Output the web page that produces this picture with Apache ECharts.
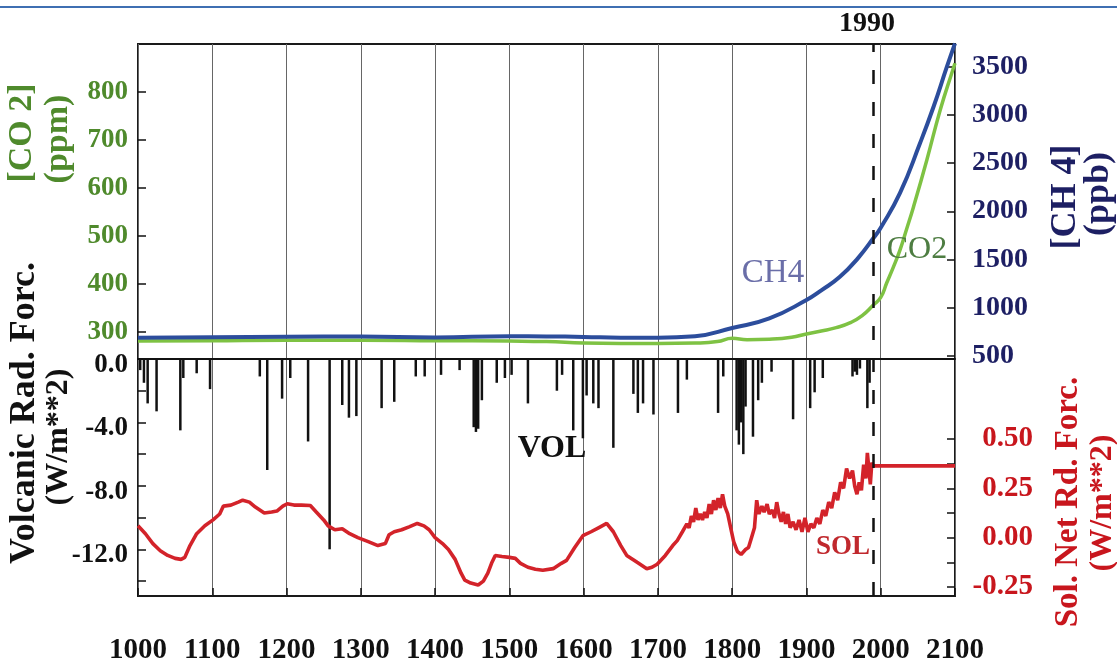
<!DOCTYPE html>
<html><head><meta charset="utf-8">
<script src="https://cdn.jsdelivr.net/npm/echarts@6/dist/echarts.min.js"></script>
<style>html,body{margin:0;padding:0;background:#fff}#c{width:1117px;height:666px}</style>
</head><body><div id="c"></div>
<script>
// ---- data ----
const yearTicks = [1000, 2100, 100];          // x axis: min, max, step
const co2Ticks = [300, 800, 100];             // left top axis
const ch4Ticks = [500, 3500, 500];            // right top axis
const volTicks = [-14, 0, 2];                 // left bottom axis
const solTicks = [-0.25, 0.5, 0.125];         // right bottom axis
const markYear = 1990;

const co2Years = [1000,1100,1200,1300,1400,1500,1550,1600,1650,1700,1750,1780,1800,1820,1850,1880,1900,1920,1940,1960,1975,1990,2000,2008,2017,2026,2035,2044,2062,2080,2097,2100];
const co2Vals  = [ 281, 282, 283, 283, 282, 281, 280, 277, 276, 276, 277, 280, 287, 284, 285, 289, 296, 302, 309, 320, 334, 356, 372, 402, 435, 471, 515, 560, 658, 762, 846, 860];

const ch4Years = [1000,1100,1200,1300,1400,1500,1550,1600,1650,1700,1750,1800,1850,1900,1920,1945,1970,1990,2000,2026,2053,2071,2089,2100];
const ch4Vals  = [ 690, 695, 700, 702, 692, 705, 703, 698, 690, 690, 705, 790, 890,1080,1180,1320,1520,1720,1830,2190,2707,3080,3495,3740];

const volYears = [1003,1008,1013,1025,1057,1061,1079,1097,1164,1174,1194,1205,1229,1258,1275,1284,1294,1328,1345,1374,1386,1408,1433,1452,1455,1458,1463,1483,1494,1503,1525,1564,1571,1586,1599,1604,1613,1620,1640,1667,1673,1680,1694,1727,1739,1781,1788,1806,1809,1812,1815,1818,1828,1835,1840,1853,1882,1905,1911,1922,1962,1965,1968,1972,1982,1985];
const volVals  = [-0.7,-1.5,-2.8,-3.3,-4.5,-1.2,-0.9,-1.9,-1.1,-7.0,-2.5,-1.2,-5.2,-12.0,-2.9,-3.7,-3.6,-3.1,-2.7,-1.1,-1.1,-1.0,-0.7,-4.3,-4.6,-4.4,-2.6,-1.5,-1.2,-1.0,-2.8,-2.0,-1.0,-4.5,-5.0,-2.3,-2.8,-3.1,-5.6,-2.2,-3.4,-2.8,-3.5,-3.4,-1.3,-3.4,-1.1,-4.5,-5.4,-4.0,-6.0,-3.0,-4.9,-2.6,-1.5,-0.8,-3.8,-3.1,-2.1,-1.2,-1.1,-0.8,-1.0,-0.6,-3.1,-1.5];

const solYears = [1000,1010,1020,1030,1040,1050,1058,1063,1070,1079,1090,1101,1110,1115,1125,1135,1141,1150,1158,1164,1170,1180,1187,1195,1201,1210,1220,1232,1240,1250,1256,1265,1275,1285,1296,1310,1323,1333,1338,1345,1355,1365,1376,1385,1392,1400,1410,1418,1427,1435,1440,1448,1458,1465,1471,1476,1481,1490,1500,1508,1515,1525,1535,1545,1559,1570,1577,1588,1599,1610,1620,1631,1640,1650,1658,1672,1685,1692,1699,1710,1720,1726,1733,1739,1742,1745,1748,1751,1754,1757,1760,1763,1766,1769,1772,1775,1778,1781,1784,1787,1790,1794,1798,1802,1807,1812,1818,1822,1826,1830,1833,1836,1840,1843,1847,1850,1854,1857,1860,1863,1866,1869,1872,1875,1878,1882,1886,1890,1894,1898,1902,1906,1910,1914,1918,1922,1926,1930,1934,1938,1942,1946,1950,1954,1958,1962,1965,1968,1971,1974,1977,1980,1982,1984,1986,1988,1990,2100];
const solVals  = [0.06,0.02,-0.03,-0.066,-0.09,-0.105,-0.11,-0.10,-0.04,0.02,0.06,0.09,0.12,0.16,0.165,0.18,0.19,0.18,0.155,0.14,0.125,0.13,0.135,0.16,0.172,0.165,0.165,0.163,0.13,0.09,0.06,0.04,0.045,0.02,0.0,-0.02,-0.04,-0.03,0.015,0.03,0.04,0.055,0.072,0.06,0.04,0.0,-0.03,-0.06,-0.11,-0.18,-0.215,-0.23,-0.24,-0.22,-0.18,-0.13,-0.09,-0.095,-0.10,-0.105,-0.13,-0.15,-0.16,-0.165,-0.157,-0.13,-0.115,-0.05,0.01,0.03,0.05,0.072,0.03,-0.04,-0.09,-0.125,-0.157,-0.15,-0.135,-0.09,-0.04,-0.015,0.03,0.07,0.05,0.11,0.08,0.15,0.09,0.12,0.09,0.13,0.10,0.17,0.12,0.19,0.14,0.20,0.15,0.22,0.16,0.12,0.05,-0.02,-0.07,-0.085,-0.06,-0.05,0.0,0.05,0.19,0.12,0.16,0.13,0.17,0.12,0.14,0.10,0.18,0.12,0.08,0.13,0.07,0.12,0.05,0.08,0.04,0.09,0.03,0.10,0.03,0.07,0.05,0.10,0.07,0.14,0.11,0.18,0.15,0.23,0.19,0.28,0.25,0.35,0.30,0.34,0.26,0.22,0.28,0.24,0.37,0.30,0.43,0.35,0.27,0.38,0.364,0.364];

// ---- chart ----
const FONT = "'Liberation Serif','Times New Roman',serif";
const pair = (xs, ys) => xs.map((x, i) => [x, ys[i]]);
const tickStyle = {show: true, inside: true, length: 8, lineStyle: {color: '#111', width: 1.5}};
const plain = v => String(v);
const L = 138, W = 817;

const chart = echarts.init(document.getElementById('c'), null, {renderer: 'canvas'});
const hiddenX = gi => ({gridIndex: gi, type: 'value', min: yearTicks[0], max: yearTicks[1], show: false});

function rtext(txt, x, y, size, color, rot) {
  return {type: 'text', x: x, y: y, rotation: rot ? Math.PI / 2 : 0, z: 50,
    style: {text: txt, x: 0, y: 0, align: 'center', verticalAlign: 'middle',
      font: 'bold ' + size + 'px ' + FONT, fill: color}};
}
function ptext(txt, x, y, size, color, weight) {
  return {type: 'text', x: x, y: y, z: 50,
    style: {text: txt, x: 0, y: 0, align: 'center', verticalAlign: 'middle',
      font: (weight || 'normal') + ' ' + size + 'px ' + FONT, fill: color}};
}

chart.setOption({
  animation: false,
  backgroundColor: '#fff',
  grid: [
    {left: L, top: 44, width: W, height: 552, show: true, borderColor: '#1a1a1a', borderWidth: 2, backgroundColor: 'rgba(0,0,0,0)'},
    {left: L, top: 92, width: W, height: 240},
    {left: L, top: 66.5, width: W, height: 289.5},
    {left: L, top: 359, width: W, height: 222},
    {left: L, top: 439, width: W, height: 148}
  ],
  xAxis: [
    {gridIndex: 0, type: 'value', min: yearTicks[0], max: yearTicks[1], interval: yearTicks[2],
     axisLine: {show: false}, axisTick: tickStyle,
     splitLine: {show: true, lineStyle: {color: '#666', width: 1}},
     axisLabel: {margin: 40, fontFamily: FONT, fontWeight: 'bold', fontSize: 29, color: '#111', formatter: plain}},
    hiddenX(1),
    hiddenX(2),
    {gridIndex: 3, type: 'value', min: yearTicks[0], max: yearTicks[1], position: 'top',
     axisLine: {show: true, onZero: false, lineStyle: {color: '#111', width: 2}},
     axisTick: {show: false}, axisLabel: {show: false}, splitLine: {show: false}},
    hiddenX(4)
  ],
  yAxis: [
    {gridIndex: 0, type: 'value', min: 0, max: 1, show: false},
    {gridIndex: 1, type: 'value', position: 'left', min: co2Ticks[0], max: co2Ticks[1], interval: co2Ticks[2],
     axisLine: {show: false}, axisTick: tickStyle, splitLine: {show: false},
     axisLabel: {margin: 10, color: '#4f8a2c', fontFamily: FONT, fontWeight: 'bold', fontSize: 27, formatter: plain}},
    {gridIndex: 2, type: 'value', position: 'right', min: ch4Ticks[0], max: ch4Ticks[1], interval: ch4Ticks[2],
     axisLine: {show: false}, axisTick: tickStyle, splitLine: {show: false},
     axisLabel: {margin: 17, color: '#1d1f63', fontFamily: FONT, fontWeight: 'bold', fontSize: 28, formatter: plain}},
    {gridIndex: 3, type: 'value', position: 'left', min: volTicks[0], max: volTicks[1], interval: volTicks[2],
     axisLine: {show: false}, axisTick: tickStyle, splitLine: {show: false},
     axisLabel: {margin: 10, color: '#111',
       formatter: v => (Math.abs(v % 4) < 1e-9 ? '{t|' + v.toFixed(1) + '}' : ''),
       rich: {t: {fontFamily: FONT, fontWeight: 'bold', fontSize: 27, color: '#111', padding: [12, 0, 0, 0]}}}},
    {gridIndex: 4, type: 'value', position: 'right', min: solTicks[0], max: solTicks[1], interval: solTicks[2],
     axisLine: {show: false}, axisTick: tickStyle, splitLine: {show: false},
     axisLabel: {margin: 78, align: 'right', color: '#c8161d', fontFamily: FONT, fontWeight: 'bold', fontSize: 29,
       formatter: v => (Math.abs(v / 0.25 - Math.round(v / 0.25)) < 1e-6 ? v.toFixed(2) : '')}}
  ],
  series: [
    {type: 'line', xAxisIndex: 1, yAxisIndex: 1, data: pair(co2Years, co2Vals), smooth: 0.5,
     showSymbol: false, clip: false, lineStyle: {color: '#7ec243', width: 3.5}, z: 3},
    {type: 'line', xAxisIndex: 2, yAxisIndex: 2, data: pair(ch4Years, ch4Vals), smooth: 0.5,
     showSymbol: false, clip: false, lineStyle: {color: '#2c4d9c', width: 4}, z: 4},
    {type: 'bar', xAxisIndex: 3, yAxisIndex: 3, data: pair(volYears, volVals), barWidth: 2.5,
     itemStyle: {color: '#111'}, z: 3},
    {type: 'line', xAxisIndex: 4, yAxisIndex: 4, data: pair(solYears, solVals), showSymbol: false, clip: false,
     lineStyle: {color: '#d3232a', width: 3.6}, z: 4},
    {type: 'line', xAxisIndex: 0, yAxisIndex: 0, data: [[markYear, 0.5]], showSymbol: false, lineStyle: {width: 0},
     markLine: {silent: true, symbol: ['none', 'none'], label: {show: false},
       lineStyle: {color: '#111', width: 2.5, type: [14, 18]}, data: [{xAxis: markYear}]}, z: 5}
  ],
  graphic: [
    {type: 'line', shape: {x1: 0, y1: 7, x2: 1117, y2: 7}, style: {stroke: '#3f6fb2', lineWidth: 2}},
    rtext('[CO 2]', 22, 133, 34, '#4f8a2c', true),
    rtext('(ppm)', 58, 139, 34, '#4f8a2c', true),
    rtext('Volcanic Rad. Forc.', 25, 413, 36, '#111', true),
    rtext('(W/m**2)', 59, 437, 32, '#111', true),
    rtext('[CH 4]', 1066, 197, 36, '#1d1f63', true),
    rtext('(ppb)', 1099, 194, 36, '#1d1f63', true),
    rtext('Sol. Net Rd. Forc.', 1068, 502, 33, '#c8161d', true),
    rtext('(W/m**2)', 1103, 503, 32, '#c8161d', true),
    ptext('1990', 867, 24, 28, '#111', 'bold'),
    ptext('CH4', 773, 273, 33, '#6a6ea8'),
    ptext('CO2', 917, 250, 32, '#4e7d42'),
    ptext('VOL', 552, 449, 32, '#111', 'bold'),
    ptext('SOL', 843, 547, 27, '#c0282d', 'bold')
  ]
});
</script></body></html>
